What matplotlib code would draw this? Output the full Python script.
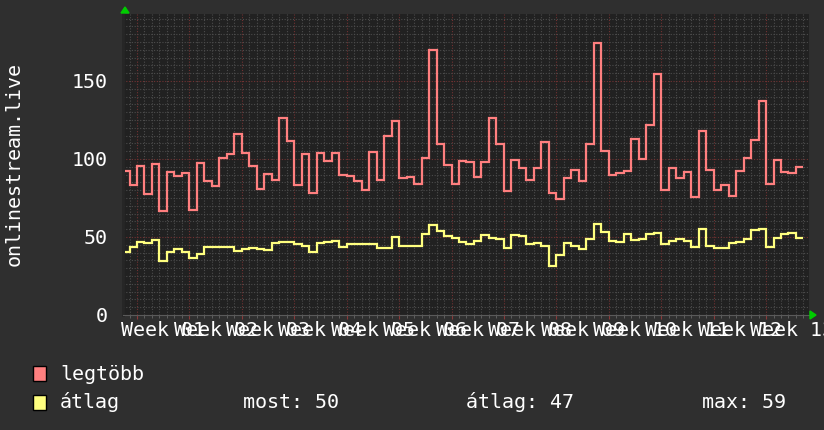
import numpy as np
import matplotlib
matplotlib.use("Agg")
import matplotlib.pyplot as plt
from matplotlib.patches import Rectangle, Polygon
from matplotlib import transforms

plt.rcParams['font.family'] = ['DejaVu Sans Mono', 'DejaVu Sans']

# napi értékek (első elem egy rövid, részleges nap)
legtobb = [92.5, 83.3, 95.5, 77.4, 96.8, 66.9, 91.7, 88.9, 91.0, 67.3,
           97.4, 85.9, 82.5, 100.9, 103.0, 116.0, 103.8, 95.5, 81.0, 90.4,
           86.8, 126.3, 111.8,
           83.3, 103.2, 78.2, 104.1, 98.7, 104.1, 90.0, 89.1, 85.9, 80.1,
           104.5, 86.8, 114.7, 124.6, 88.0, 88.5, 84.0, 100.9, 169.9, 109.4,
           96.2, 84.0, 98.7,
           98.3, 88.7, 98.1, 126.3, 109.4, 79.5, 99.6, 94.4, 86.8, 94.2,
           110.9, 78.4, 74.4, 87.6, 93.2, 85.9, 109.6, 174.6, 105.3, 90.0,
           91.0, 92.3, 112.8,
           100.2, 122.0, 154.3, 80.1, 94.2, 88.0, 91.7, 75.4, 118.2, 93.2,
           80.1, 83.5, 76.5, 92.5, 100.4, 112.0, 137.4, 84.0, 99.6, 91.7,
           91.0, 95.1]
atlag = [40.6, 43.4, 46.8, 46.4, 48.1, 34.4, 40.4, 42.1, 40.4, 36.8,
         39.3, 43.6, 43.6, 43.6, 43.6, 40.8, 42.3, 42.9, 42.3, 41.7,
         45.9, 46.6, 46.6,
         45.5, 44.2, 40.2, 45.9, 46.6, 47.4, 43.6, 45.7, 45.7, 45.7,
         45.7, 43.2, 43.2, 50.0, 44.4, 44.4, 44.4, 52.1, 57.7, 53.8,
         50.9, 49.4, 46.6,
         45.7, 47.2, 51.3, 49.1, 48.7, 43.2, 51.5, 50.4, 45.3, 46.4,
         44.4, 31.4, 38.2, 46.2, 44.4, 42.3, 48.7, 58.5, 53.2, 47.4,
         46.8, 52.1, 48.3,
         48.9, 51.7, 52.8, 45.5, 47.6, 48.5, 47.4, 43.4, 55.1, 44.4,
         42.7, 42.7, 45.9, 46.6, 48.9, 54.7, 55.3, 43.8, 49.4, 52.1,
         52.8, 49.4]
# napok határai (0 = első heti rácsvonal)
edges = [-1.6] + list(range(-1, 90))
week_labels = ['Week %02d' % i for i in range(1, 14)]
stats = ['most: 50', 'átlag: 47', 'max: 59']

W, H = 824, 430
BG = '#2f2f2f'
CANVAS = '#212121'
RED = '#ff7f7f'
YEL = '#ffff7f'


def fx(x):
    return x / W


def fy(y):
    return 1 - y / H


fig = plt.figure(figsize=(W / 100, H / 100), dpi=100, facecolor=BG)
ax = fig.add_axes([fx(123), fy(315), 686 / W, 301 / H])
ax.set_facecolor(CANVAS)

ax.set_xlim(-1.87, 89.74)
ax.set_ylim(0, 192.9)

ax.set_xticks(np.arange(0, 85, 7))
ax.set_xticks(np.arange(-1, 90, 1), minor=True)
ax.set_yticks([0, 50, 100, 150])
ax.set_yticks(np.arange(0, 193, 5), minor=True)

ax.grid(which='minor', color='#4c4c4c', linestyle=(0, (1, 1.5)), linewidth=0.8)
ax.grid(which='major', color='#713232', linestyle=(0, (1, 1.5)), linewidth=0.8)
ax.set_axisbelow(True)

ax.tick_params(axis='x', which='major', length=3, color='#8a3a3a', labelbottom=False)
ax.tick_params(axis='x', which='minor', length=2, color='#666666')
ax.tick_params(axis='y', which='both', length=0, pad=11, labelcolor='white', labelsize=14.4)

for s in ['top', 'right']:
    ax.spines[s].set_visible(False)
ax.spines['left'].set_color('#262626')
ax.spines['left'].set_linewidth(2)
ax.spines['bottom'].set_color('#5a5a5a')

ax.stairs(legtobb, edges, baseline=None, color=RED, linewidth=1.6)
ax.stairs(atlag, edges, baseline=None, color=YEL, linewidth=1.6)

# x feliratok a hetek közepén
tr = transforms.blended_transform_factory(ax.transData, fig.transFigure)
for k, lab in enumerate(week_labels):
    ax.text(3.5 + 7 * k, fy(330), lab, transform=tr, ha='center', va='center',
            color='white', fontsize=14.4, clip_on=False)

fig.text(fx(14), fy(164), 'onlinestream.live', rotation=90, ha='center', va='center',
         color='white', fontsize=14.4)

# tengely nyilak
fig.add_artist(Polygon([(fx(121), fy(13)), (fx(129), fy(13)), (fx(125), fy(7))],
                       closed=True, color='#00cc00', transform=fig.transFigure))
fig.add_artist(Polygon([(fx(810), fy(311)), (fx(810), fy(319)), (fx(816), fy(315))],
                       closed=True, color='#00cc00', transform=fig.transFigure))

# jelmagyarázat
for y0, col in [(366, RED), (395, YEL)]:
    fig.add_artist(Rectangle((fx(33), fy(y0 + 15)), 13 / W, 15 / H, facecolor=col,
                             edgecolor='black', linewidth=1, transform=fig.transFigure))
fig.text(fx(60), fy(374), 'legtöbb', color='white', fontsize=14.4, va='center')
fig.text(fx(60), fy(402), 'átlag', color='white', fontsize=14.4, va='center')
for x0, s in zip([243, 466, 702], stats):
    fig.text(fx(x0), fy(402), s, color='white', fontsize=14.4, va='center')

fig.savefig('out.png', dpi=100, facecolor=BG)
